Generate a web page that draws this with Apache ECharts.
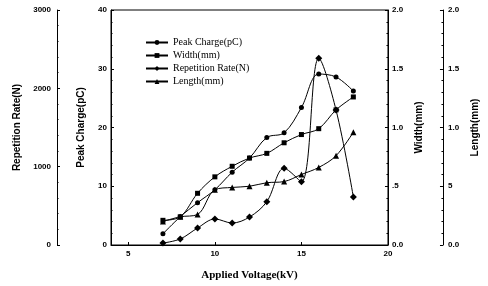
<!DOCTYPE html>
<html>
<head>
<meta charset="utf-8">
<script src="https://cdn.jsdelivr.net/npm/echarts@6/dist/echarts.min.js"></script>
<style>html,body{margin:0;padding:0;background:#fff;}#c{width:488px;height:286px;}</style>
</head>
<body>
<div id="c"></div>
<script>
const voltage = [7, 8, 9, 10, 11, 12, 13, 14, 15, 16, 17, 18];
const peakCharge = [1.9, 4.8, 7.2, 9.4, 12.4, 14.8, 18.3, 19.1, 23.4, 29.1, 28.6, 26.2];
const widthMm = [0.21, 0.24, 0.44, 0.58, 0.67, 0.74, 0.78, 0.87, 0.94, 0.99, 1.15, 1.26];
const repRate = [25, 77, 217, 332, 281, 357, 553, 979, 808, 2383, 1723, 613];
const lengthMm = [0.20, 0.24, 0.26, 0.47, 0.49, 0.50, 0.53, 0.54, 0.60, 0.66, 0.76, 0.96];
const xTicks = [5, 10, 15, 20];
const widthLabels = {0: '0.0', 0.5: '.5', 1: '1.0', 1.5: '1.5', 2: '2.0'};
const lengthLabels = {0: '0.0', 0.5: '5', 1: '1.0', 1.5: '1.5', 2: '2.0'};
const seriesNames = ['Peak Charge(pC)', 'Width(mm)', 'Repetition Rate(N)', 'Length(mm)'];

const pair = arr => voltage.map((v, i) => [v, arr[i]]);
const tickFont = {fontFamily: 'Liberation Sans', fontSize: 8, fontWeight: 'bold', color: '#000'};
const nameFont = {fontFamily: 'Liberation Sans', fontSize: 10, fontWeight: 'bold', color: '#000'};
function yAx(o) {
  return Object.assign({
    type: 'value', nameLocation: 'middle', nameRotate: 90, nameTextStyle: nameFont,
    axisLine: {show: true, onZero: false, lineStyle: {color: '#000', width: 1}},
    axisTick: {show: true, inside: true, length: 3, lineStyle: {color: '#000'}},
    minorTick: {show: true, splitNumber: 5, length: 1.5, lineStyle: {color: '#000'}},
    splitLine: {show: false},
    axisLabel: Object.assign({}, tickFont)
  }, o);
}
const chart = echarts.init(document.getElementById('c'), null, {renderer: 'canvas'});
const mk = (name, data, yi, sym, size) => ({
  name, type: 'line', yAxisIndex: yi, data: pair(data), smooth: 0.35,
  symbol: sym, symbolSize: size,
  lineStyle: {color: '#000', width: 1}, itemStyle: {color: '#000'}
});
chart.setOption({
  animation: false,
  backgroundColor: '#fff',
  grid: {left: 111, right: 96, top: 10, bottom: 41, show: true, borderColor: '#000', borderWidth: 1},
  legend: {
    orient: 'vertical', left: 140, top: 31, itemWidth: 22, itemHeight: 6, itemGap: 0,
    data: seriesNames,
    textStyle: {fontFamily: 'Liberation Serif', fontSize: 10, color: '#000', lineHeight: 13}
  },
  xAxis: {
    type: 'value', min: 4, max: 20,
    name: 'Applied Voltage(kV)', nameLocation: 'middle', nameGap: 25,
    nameTextStyle: {fontFamily: 'Liberation Serif', fontSize: 11, fontWeight: 'bold', color: '#000'},
    axisLine: {lineStyle: {color: '#000'}},
    axisTick: {inside: true, length: 3, customValues: xTicks, lineStyle: {color: '#000'}},
    axisLabel: Object.assign({customValues: xTicks, margin: 5}, tickFont),
    splitLine: {show: false}
  },
  yAxis: [
    yAx({position: 'left', offset: 0, min: 0, max: 40, interval: 10, name: 'Peak Charge(pC)', nameGap: 25,
      axisLabel: Object.assign({margin: 4}, tickFont)}),
    yAx({position: 'left', offset: 54, min: 0, max: 3000, interval: 1000, name: 'Repetition Rate(N)', nameGap: 32,
      axisLabel: Object.assign({margin: 6, formatter: v => String(v)}, tickFont)}),
    yAx({position: 'right', offset: 0, min: 0, max: 2, interval: 0.5, name: 'Width(mm)', nameGap: 22,
      axisLabel: Object.assign({margin: 4, formatter: v => widthLabels[v]}, tickFont)}),
    yAx({position: 'right', offset: 55, min: 0, max: 2, interval: 0.5, name: 'Length(mm)', nameGap: 21,
      axisLabel: Object.assign({margin: 5, formatter: v => lengthLabels[v]}, tickFont)})
  ],
  series: [
    mk(seriesNames[0], peakCharge, 0, 'circle', 5),
    mk(seriesNames[1], widthMm, 2, 'rect', 5),
    mk(seriesNames[2], repRate, 1, 'diamond', 7),
    mk(seriesNames[3], lengthMm, 3, 'triangle', 6)
  ]
});
</script>
</body>
</html>
